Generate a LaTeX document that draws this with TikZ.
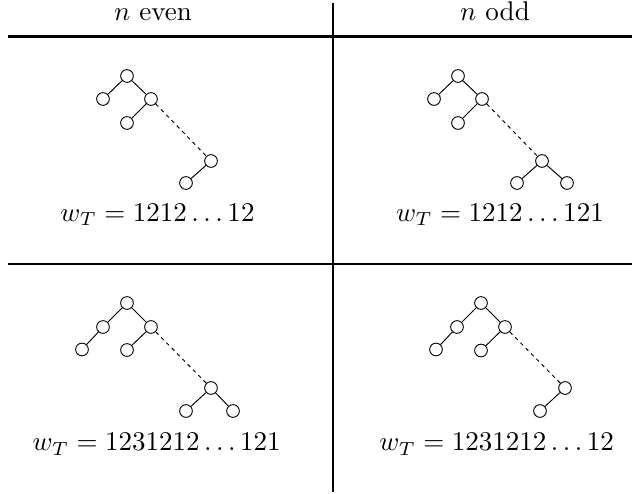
\documentclass[tikz,border=0pt]{standalone}
\begin{document}
\begin{tikzpicture}[x={(0.37pt,0)},y={(0,-0.37pt)},
  vtx/.style={circle,draw,line width=0.35pt,minimum size=4.7pt,inner sep=0pt},
  edge/.style={line width=0.35pt},
  dedge/.style={line width=0.35pt,dash pattern=on 1.4pt off 1.4pt},
  lbl/.style={anchor=base,inner sep=0pt},
  toprule/.style={line width=0.95pt},
  midrule/.style={line width=0.6pt},
  vrule/.style={line width=0.55pt}]
\useasboundingbox (0,0) rectangle (632,494);
% table rules
\coordinate (t1) at (8,36.3);
\coordinate (t2) at (632,36.3);
\coordinate (m1) at (8,264);
\coordinate (m2) at (632,264);
\coordinate (v1) at (333,3);
\coordinate (v2) at (333,492);
\draw[toprule] (t1) -- (t2);
\draw[midrule] (m1) -- (m2);
\draw[vrule] (v1) -- (v2);
% headers
\node[lbl] (h1) at (153,21) {$n$ even};
\node[lbl] (h2) at (495,21) {$n$ odd};
% tree A
\node[vtx] (a0) at (127,76) {};
\node[vtx] (a1) at (103,99) {};
\node[vtx] (a2) at (151,99) {};
\node[vtx] (a3) at (127,123) {};
\node[vtx] (a4) at (211,161) {};
\node[vtx] (a5) at (186,183) {};
\draw[edge] (a0) -- (a1);
\draw[edge] (a0) -- (a2);
\draw[edge] (a2) -- (a3);
\draw[dedge] (a2) -- (a4);
\draw[edge] (a4) -- (a5);
\node[lbl] (wa) at (157.5,221.5) {$w_T=1212\ldots12$};
% tree B
\node[vtx] (b0) at (458,76) {};
\node[vtx] (b1) at (434,99) {};
\node[vtx] (b2) at (482,99) {};
\node[vtx] (b3) at (458,123) {};
\node[vtx] (b4) at (542,161) {};
\node[vtx] (b5) at (517,183) {};
\node[vtx] (b6) at (567,183) {};
\draw[edge] (b0) -- (b1);
\draw[edge] (b0) -- (b2);
\draw[edge] (b2) -- (b3);
\draw[dedge] (b2) -- (b4);
\draw[edge] (b4) -- (b5);
\draw[edge] (b4) -- (b6);
\node[lbl] (wb) at (500,221.5) {$w_T=1212\ldots121$};
% tree C
\node[vtx] (c0) at (127,303) {};
\node[vtx] (c1) at (103,327) {};
\node[vtx] (c2) at (82,349.5) {};
\node[vtx] (c3) at (151,327) {};
\node[vtx] (c4) at (127,350) {};
\node[vtx] (c5) at (211,388) {};
\node[vtx] (c6) at (186,411) {};
\node[vtx] (c7) at (233,411) {};
\draw[edge] (c0) -- (c1);
\draw[edge] (c1) -- (c2);
\draw[edge] (c0) -- (c3);
\draw[edge] (c3) -- (c4);
\draw[dedge] (c3) -- (c5);
\draw[edge] (c5) -- (c6);
\draw[edge] (c5) -- (c7);
\node[lbl] (wc) at (156.7,451) {$w_T=1231212\ldots121$};
% tree D
\node[vtx] (d0) at (481,303) {};
\node[vtx] (d1) at (457,327) {};
\node[vtx] (d2) at (436,349.5) {};
\node[vtx] (d3) at (505,327) {};
\node[vtx] (d4) at (481,350.5) {};
\node[vtx] (d5) at (565,388) {};
\node[vtx] (d6) at (540,411) {};
\draw[edge] (d0) -- (d1);
\draw[edge] (d1) -- (d2);
\draw[edge] (d0) -- (d3);
\draw[edge] (d3) -- (d4);
\draw[dedge] (d3) -- (d5);
\draw[edge] (d5) -- (d6);
\node[lbl] (wd) at (496.7,451) {$w_T=1231212\ldots12$};
\end{tikzpicture}
\end{document}
